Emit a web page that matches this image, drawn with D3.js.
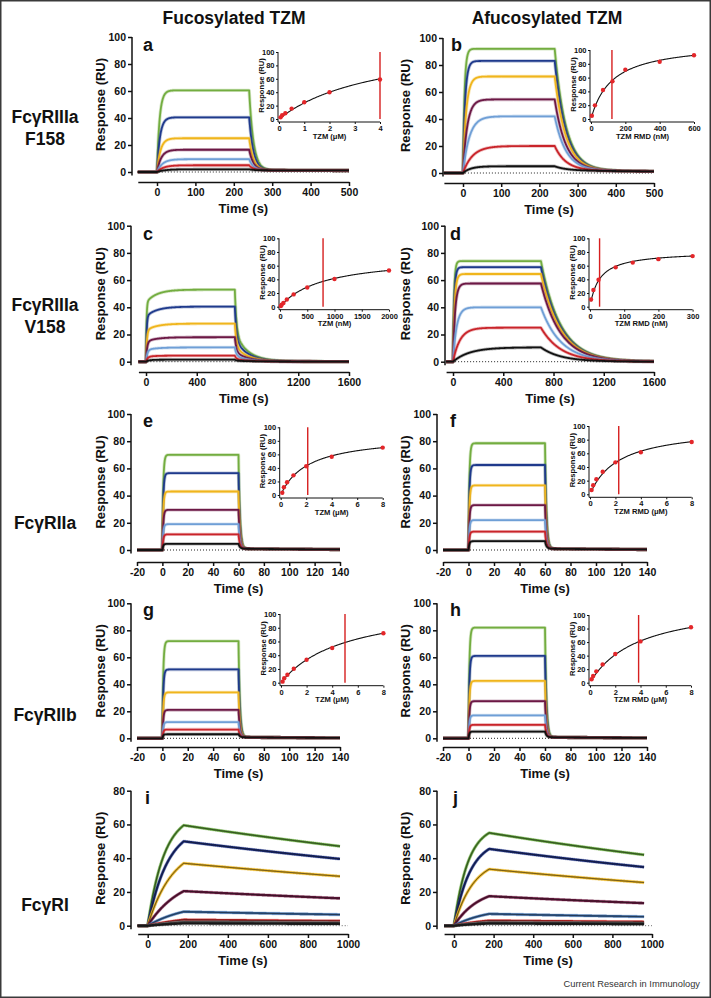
<!DOCTYPE html>
<html><head><meta charset="utf-8">
<script src="https://cdn.jsdelivr.net/npm/d3@7"></script>
<style>
html,body{margin:0;padding:0;background:#fff;}
svg{display:block;font-family:"Liberation Sans",Arial,Helvetica,sans-serif;}
</style></head><body>
<svg id="chart" width="711" height="998"></svg>
<script>
// ================= DATA =================
const columnTitles = ["Fucosylated TZM", "Afucosylated TZM"];
const rowLabels = [["FcγRIIIa", "F158"], ["FcγRIIIa", "V158"], ["FcγRIIa"], ["FcγRIIb"], ["FcγRI"]];
const panelLetters = ["a", "b", "c", "d", "e", "f", "g", "h", "i", "j"];
const sourceNote = "Current Research in Immunology";

// tick labels
const xTicksAB = [0, 100, 200, 300, 400, 500];
const xTicksCD = [0, 400, 800, 1200, 1600];
const xTicksEH = [-20, 0, 20, 40, 60, 80, 100, 120, 140];
const xTicksIJ = [0, 200, 400, 600, 800, 1000];
const yTicks100 = [0, 20, 40, 60, 80, 100];
const yTicks80 = [0, 20, 40, 60, 80];
const insetYTicks = [0, 20, 40, 60, 80, 100];
const insetXTicksA = [0, 1, 2, 3, 4];
const insetXTicksB = [0, 200, 400, 600];
const insetXTicksC = [0, 500, 1000, 1500, 2000];
const insetXTicksD = [0, 100, 200, 300];
const insetXTicksEH = [0, 2, 4, 6, 8];
const insetXLabels = ["TZM (μM)", "TZM RMD (nM)", "TZM (nM)", "TZM RMD (nM)", "TZM (μM)", "TZM RMD (μM)", "TZM (μM)", "TZM RMD (μM)"];

// sensorgrams: response at end of injection (RU), curves green, navy, yellow, maroon, light blue, red, black
const peakA = [60.5, 40.5, 25, 16.5, 9.5, 5, 2];
const peakB = [92, 83, 71.5, 54.5, 42, 20, 5];
const peakC = [53, 40.5, 28, 18, 10.5, 4.5, 1.5];
const peakD = [74, 69.5, 64.5, 57.5, 40, 25, 10.5];
const peakE = [70, 56.5, 43, 29.5, 19, 11.5, 4.5];
const peakF = [78.5, 62.5, 47.5, 33, 22, 13.5, 6.5];
const peakG = [72, 51, 34, 21, 12, 6.5, 3];
const peakH = [82, 61, 42.5, 27.5, 17, 10, 5];
const peakI = [59.5, 50, 37, 20.5, 8.3, 3.5, 2.3, 1.4];
const peakJ = [55, 45.5, 33.5, 17.5, 7, 3, 2, 1.3];
// observed association rates (1/s) per curve
const rateA = [0.15, 0.13, 0.11, 0.09, 0.07, 0.06, 0.05];
const rateB = [0.25, 0.18, 0.12, 0.09, 0.06, 0.04, 0.05];
const rateC = [0.25, 0.2, 0.15, 0.12, 0.1, 0.08, 0.05];
const rateD = [0.12, 0.1, 0.08, 0.06, 0.035, 0.018, 0.0075];
const rateE = [1.5, 1.5, 1.5, 1.5, 1.5, 1.5, 1.5];
const rateF = [1.5, 1.5, 1.5, 1.5, 1.5, 1.5, 1.5];
const rateG = [1.5, 1.5, 1.5, 1.5, 1.5, 1.5, 1.5];
const rateH = [1.5, 1.5, 1.5, 1.5, 1.5, 1.5, 1.5];
const rateI = [0.012, 0.010, 0.008, 0.006, 0.005, 0.004, 0.004, 0.004];
const rateJ = [0.014, 0.012, 0.010, 0.008, 0.006, 0.005, 0.005, 0.005];
// per panel (a..j) timing and dissociation
const runStart = [-50, -50, -60, -55, -20, -20, -20, -20, -50, -50];
const injectionEnd = [240, 240, 700, 700, 60, 60, 60, 60, 180, 178];
const runEnd = [500, 500, 1600, 1600, 140, 140, 140, 140, 960, 960];
const assocFastFrac = [1, 1, 0.82, 1, 1, 1, 1, 1, 1, 1];
const assocSlowRate = [0, 0, 0.012, 0, 0, 0, 0, 0, 0, 0];
const dissocFastRate = [0.09, 0.034, 0.08, 0.0064, 0.9, 0.9, 0.9, 0.9, 0.0003, 0.000345];
const dissocFastFrac = [1, 1, 0.6, 1, 1, 1, 1, 1, 1, 1];
const dissocSlowRate = [0, 0, 0.01, 0, 0, 0, 0, 0, 0, 0];
const residualRU = [1.3, 2, 0.3, 0.3, 1, 1, 0.8, 0.8, 0, 0];
const residualDecay = [0.0005, 0.002, 0.002, 0.002, 0.012, 0.012, 0.012, 0.012, 0, 0];

// steady-state insets (a..h)
const concA = [0.0625, 0.125, 0.25, 0.5, 1, 2, 4];
const respA = [2.5, 5.5, 8.5, 15.5, 25, 40, 59];
const concB = [5, 23, 70, 125, 200, 400, 600];
const respB = [4.8, 19.8, 42, 54.6, 71.5, 83, 92.3];
const concC = [15.6, 31.25, 62.5, 125, 250, 500, 1000, 2000];
const respC = [1, 3, 5.5, 10.5, 18, 28, 40.5, 53];
const concD = [3, 10, 25, 75, 125, 200, 300];
const respD = [10.5, 24.5, 39.5, 57.5, 64.5, 69.5, 74];
const concE = [0.125, 0.25, 0.5, 1, 2, 4, 8];
const respE = [3.4, 11.4, 18.8, 29, 42.4, 56.6, 70];
const concF = [0.125, 0.25, 0.5, 1, 2, 4, 8];
const respF = [6.3, 13.2, 22, 33, 46.8, 61.5, 76.6];
const concG = [0.125, 0.25, 0.5, 1, 2, 4, 8];
const respG = [1.5, 6.4, 11.6, 20.4, 33.5, 50.5, 72];
const concH = [0.125, 0.25, 0.5, 1, 2, 4, 8];
const respH = [5, 9.9, 16.8, 27, 42.4, 61, 81.8];
const fitKD = [4.0, 122, 790, 28, 2.12, 2.26, 5.0, 3.85];
const fitRmax = [120, 111, 74, 81, 88.5, 98.8, 117, 121];

// ================= STYLE / LAYOUT =================
const colors7 = ["#73ad40", "#1f3a8c", "#f0b51c", "#6c1845", "#6f9fd6", "#c9242a", "#111111"];
const colors8 = ["#5e9e38", "#1c2d7a", "#e9b423", "#6a1a40", "#3f6ea8", "#c62828", "#777777", "#222222"];
const peaks = [peakA, peakB, peakC, peakD, peakE, peakF, peakG, peakH, peakI, peakJ];
const rates = [rateA, rateB, rateC, rateD, rateE, rateF, rateG, rateH, rateI, rateJ];
const concs = [concA, concB, concC, concD, concE, concF, concG, concH];
const resps = [respA, respB, respC, respD, respE, respF, respG, respH];
const insetXTicks = [insetXTicksA, insetXTicksB, insetXTicksC, insetXTicksD, insetXTicksEH, insetXTicksEH, insetXTicksEH, insetXTicksEH];
const fmt = d => String(d);

const mainLayout = [
  {xDom: [-50, 500], xR: [137.8, 349], yDom: [0, 100], yR: [172, 37], yAxX: 132, xAxY: 182, xT: xTicksAB, yT: yTicks100, tX: 100, lX: 143, lY: 51},
  {xDom: [-50, 500], xR: [443.9, 654], yDom: [0, 100], yR: [173, 38], yAxX: 443, xAxY: 183, xT: xTicksAB, yT: yTicks100, tX: 405, lX: 451, lY: 51},
  {xDom: [-60, 1600], xR: [138.4, 349], yDom: [0, 100], yR: [361.7, 225.7], yAxX: 131, xAxY: 372, xT: xTicksCD, yT: yTicks100, tX: 100, lX: 143, lY: 240},
  {xDom: [-55, 1600], xR: [446.1, 654], yDom: [0, 100], yR: [361.7, 225.7], yAxX: 445, xAxY: 372, xT: xTicksCD, yT: yTicks100, tX: 405, lX: 450, lY: 240},
  {xDom: [-20, 140], xR: [137, 340], yDom: [0, 100], yR: [550, 414], yAxX: 131, xAxY: 562, xT: xTicksEH, yT: yTicks100, tX: 100, lX: 143, lY: 427},
  {xDom: [-20, 140], xR: [443, 647], yDom: [0, 100], yR: [550, 414], yAxX: 437, xAxY: 562, xT: xTicksEH, yT: yTicks100, tX: 405, lX: 450, lY: 427},
  {xDom: [-20, 140], xR: [137, 340], yDom: [0, 100], yR: [738.3, 603.3], yAxX: 131, xAxY: 747, xT: xTicksEH, yT: yTicks100, tX: 100, lX: 143, lY: 616},
  {xDom: [-20, 140], xR: [443, 647], yDom: [0, 100], yR: [738.3, 603.3], yAxX: 437, xAxY: 747, xT: xTicksEH, yT: yTicks100, tX: 405, lX: 450, lY: 616},
  {xDom: [-50, 1000], xR: [137.7, 348], yDom: [0, 80], yR: [925.7, 790.7], yAxX: 131, xAxY: 934, xT: xTicksIJ, yT: yTicks80, tX: 100, lX: 145, lY: 804},
  {xDom: [-50, 1000], xR: [444.1, 652], yDom: [0, 80], yR: [925.7, 790.7], yAxX: 437, xAxY: 934, xT: xTicksIJ, yT: yTicks80, tX: 405, lX: 453, lY: 804}
];
const insetLayout = [
  {xDom: [0, 4], xR: [279, 380], yR: [119, 52]},
  {xDom: [0, 600], xR: [591, 694], yR: [119, 50]},
  {xDom: [0, 2000], xR: [280, 389], yR: [306.7, 238.3]},
  {xDom: [0, 300], xR: [590, 692.6], yR: [306.7, 238.3]},
  {xDom: [0, 8], xR: [280.7, 382.7], yR: [495, 427.3]},
  {xDom: [0, 8], xR: [590, 691.7], yR: [494.3, 426]},
  {xDom: [0, 8], xR: [281, 383.4], yR: [682.7, 614]},
  {xDom: [0, 8], xR: [590, 691], yR: [682.7, 615]}
];

// ================= DRAW =================
const svg = d3.select("#chart");
const INK = "#111";
svg.append("rect").attr("x", 0.75).attr("y", 0.75).attr("width", 709.5).attr("height", 996.5)
  .attr("fill", "#fff").attr("stroke", "#3a3a3a").attr("stroke-width", 1.5);

[234, 547].forEach((cx, i) => {
  svg.append("text").attr("x", cx).attr("y", 23.5).attr("text-anchor", "middle")
    .attr("font-size", 17.5).attr("font-weight", "bold").attr("fill", INK).text(columnTitles[i]);
});
const rowCenters = [128, 316, 523, 715, 905];
rowLabels.forEach((lines, r) => {
  const n = lines.length;
  lines.forEach((ln, k) => {
    svg.append("text").attr("x", 45).attr("y", rowCenters[r] + (k - (n - 1) / 2) * 22 + 6)
      .attr("text-anchor", "middle").attr("font-size", 17.5).attr("font-weight", "bold").attr("fill", INK).text(ln);
  });
});
svg.append("text").attr("x", 700).attr("y", 987).attr("text-anchor", "end")
  .attr("font-size", 9.3).attr("fill", "#333").text(sourceNote);

function sensorgram(p, peak, rate) {
  const s = runStart[p], T = injectionEnd[p], e = runEnd[p];
  const step = (e - s) / 900;
  let ts = d3.range(s, e + step / 2, step).concat([0, T, T + 1e-6]);
  ts = Array.from(new Set(ts.map(t => Math.min(t, e)))).sort((a, b) => a - b);
  const f = assocFastFrac[p], k2 = assocSlowRate[p];
  const g = t => f * (1 - Math.exp(-rate * t)) + (1 - f) * (1 - Math.exp(-k2 * t));
  const gT = g(T);
  const res = Math.min(residualRU[p], peak * 0.9);
  const h = dissocFastFrac[p];
  return ts.map(t => {
    let v;
    if (t <= 0) v = 0;
    else if (t <= T) v = peak * g(t) / gT;
    else {
      const dt = t - T;
      v = (peak - res) * (h * Math.exp(-dissocFastRate[p] * dt) + (1 - h) * Math.exp(-dissocSlowRate[p] * dt))
        + res * Math.exp(-residualDecay[p] * dt);
    }
    return [t, v];
  });
}

function styleAxis(sel, fs, sw) {
  sel.selectAll("path,line").attr("stroke", INK).attr("stroke-width", sw);
  sel.selectAll("text").attr("font-size", fs).attr("font-weight", "bold").attr("fill", INK)
    .attr("font-family", '"Liberation Sans",Arial,sans-serif');
}

mainLayout.forEach((L, p) => {
  const g = svg.append("g");
  const x = d3.scaleLinear().domain(L.xDom).range(L.xR);
  const y = d3.scaleLinear().domain(L.yDom).range(L.yR);
  g.append("line").attr("x1", x(L.xDom[0])).attr("x2", x(L.xDom[1])).attr("y1", y(0)).attr("y2", y(0))
    .attr("stroke", p >= 8 ? "#666" : "#222").attr("stroke-width", 1).attr("stroke-dasharray", "1,2");
  const line = d3.line().x(d => x(d[0])).y(d => y(d[1]));
  const cols = peaks[p].length === 8 ? colors8 : colors7;
  peaks[p].forEach((pk, c) => {
    const data = sensorgram(p, pk, rates[p][c]);
    g.append("path").attr("d", line(data)).attr("fill", "none").attr("stroke", cols[c])
      .attr("stroke-width", 3.4).attr("stroke-opacity", 0.3).attr("stroke-linejoin", "round");
    g.append("path").attr("d", line(data)).attr("fill", "none").attr("stroke", cols[c])
      .attr("stroke-width", p >= 8 ? 2.4 : 1.8).attr("stroke-linejoin", "round");
    if (p >= 8) {
      g.append("path").attr("d", line(data)).attr("fill", "none").attr("stroke", "#111")
        .attr("stroke-width", 0.7);
    }
  });
  const ya = g.append("g").attr("transform", `translate(${L.yAxX},0)`)
    .call(d3.axisLeft(y).tickValues(L.yT).tickFormat(fmt).tickSize(4).tickSizeOuter(0).tickPadding(2));
  ya.select(".domain").remove();
  ya.append("line").attr("x1", 0).attr("x2", 0).attr("y1", y(L.yDom[1])).attr("y2", y(0) + 3.5);
  styleAxis(ya, 10.5, 1.5);
  const xa = g.append("g").attr("transform", `translate(0,${L.xAxY})`)
    .call(d3.axisBottom(x).tickValues(L.xT).tickFormat(fmt).tickSize(4).tickSizeOuter(0).tickPadding(2.5));
  styleAxis(xa, 10.5, 1.5);
  g.append("text").attr("transform", `translate(${L.tX},${(L.yR[0] + L.yR[1]) / 2}) rotate(-90)`)
    .attr("text-anchor", "middle").attr("dy", "0.35em").attr("font-size", 13).attr("font-weight", "bold")
    .attr("fill", INK).text("Response (RU)");
  g.append("text").attr("x", (L.xR[0] + L.xR[1]) / 2).attr("y", L.xAxY + 31).attr("text-anchor", "middle")
    .attr("font-size", 13).attr("font-weight", "bold").attr("fill", INK).text("Time (s)");
  g.append("text").attr("x", L.lX).attr("y", L.lY).attr("font-size", 18).attr("font-weight", "bold")
    .attr("fill", INK).text(panelLetters[p]);

  if (p < 8) {
    const I = insetLayout[p];
    const ix = d3.scaleLinear().domain(I.xDom).range(I.xR);
    const iy = d3.scaleLinear().domain([0, 100]).range(I.yR);
    const ig = svg.append("g");
    const xAxisY = I.yR[0] + 3;
    const yAxisX = I.xR[0] - 1;
    const iya = ig.append("g").attr("transform", `translate(${yAxisX},0)`)
      .call(d3.axisLeft(iy).tickValues(insetYTicks).tickFormat(fmt).tickSize(2).tickSizeOuter(0).tickPadding(1.5));
    iya.select(".domain").remove();
    iya.append("line").attr("x1", 0).attr("x2", 0).attr("y1", iy(100)).attr("y2", xAxisY);
    styleAxis(iya, 7.5, 1);
    const ixa = ig.append("g").attr("transform", `translate(0,${xAxisY})`)
      .call(d3.axisBottom(ix).tickValues(insetXTicks[p]).tickFormat(fmt).tickSize(2).tickSizeOuter(0).tickPadding(1.5));
    ixa.select(".domain").attr("d", `M${yAxisX},0H${I.xR[1]}`);
    styleAxis(ixa, 7.5, 1);
    ig.append("text").attr("transform", `translate(${yAxisX - 17},${(I.yR[0] + I.yR[1]) / 2}) rotate(-90)`)
      .attr("text-anchor", "middle").attr("dy", "0.35em").attr("font-size", 7.6).attr("font-weight", "bold")
      .attr("fill", INK).text("Response (RU)");
    ig.append("text").attr("x", (I.xR[0] + I.xR[1]) / 2).attr("y", xAxisY + 16.5).attr("text-anchor", "middle")
      .attr("font-size", 7.6).attr("font-weight", "bold").attr("fill", INK).text(insetXLabels[p]);
    const cmin = d3.min(concs[p]), cmax = d3.max(concs[p]);
    const fitPts = d3.range(0, 201).map(i => {
      const c = cmin + (cmax - cmin) * i / 200;
      return [c, fitRmax[p] * c / (fitKD[p] + c)];
    });
    ig.append("path").attr("d", d3.line().x(d => ix(d[0])).y(d => iy(d[1]))(fitPts))
      .attr("fill", "none").attr("stroke", INK).attr("stroke-width", 1.1);
    ig.append("line").attr("x1", ix(fitKD[p])).attr("x2", ix(fitKD[p])).attr("y1", iy(0)).attr("y2", iy(100))
      .attr("stroke", "#d61f1f").attr("stroke-width", 1.4);
    ig.selectAll("circle.pt").data(concs[p].map((c, i) => [c, resps[p][i]])).enter().append("circle")
      .attr("cx", d => ix(d[0])).attr("cy", d => iy(d[1])).attr("r", 2.2).attr("fill", "#e3262a");
  }
});
</script>
</body></html>
